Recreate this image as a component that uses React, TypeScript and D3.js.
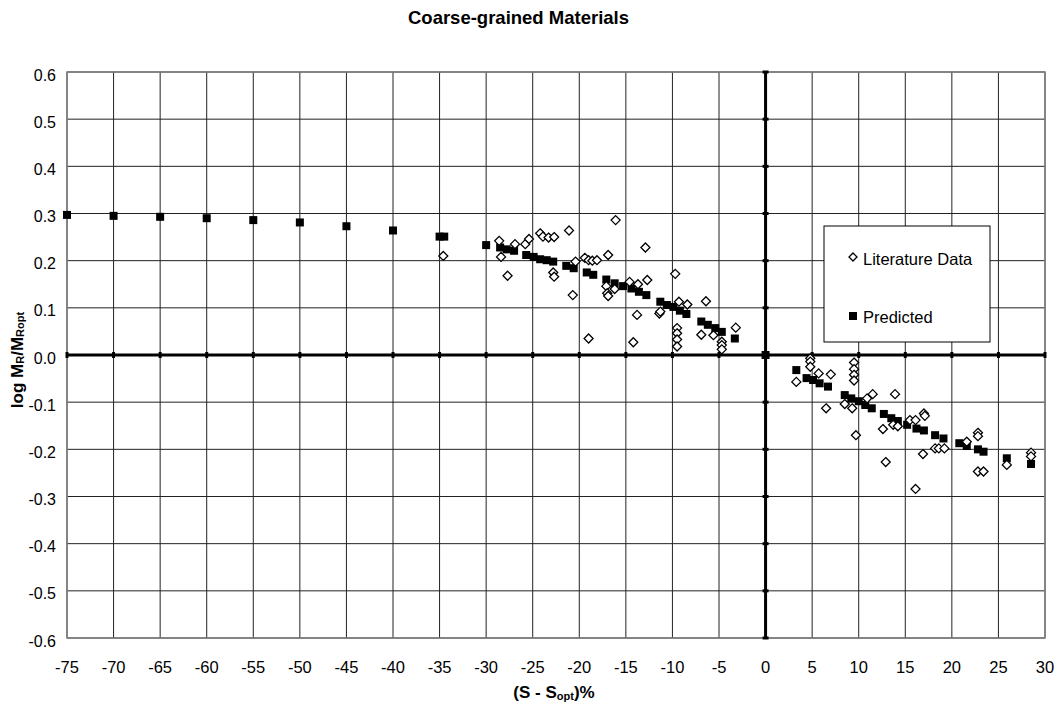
import React from 'react'
import { scaleLinear, range } from 'd3'

// predicted curve (filled squares)
const predX = [-75, -70, -65, -60, -55, -50, -45, -40, -35, -34.5, -30, -28.5, -27.8, -27.0, -25.7, -24.9, -24.2, -23.5, -22.8, -21.4, -20.6, -19.2, -18.5, -17.1, -16.2, -15.3, -14.4, -13.6, -12.8, -11.3, -10.6, -9.9, -9.2, -8.5, -6.9, -6.2, -5.4, -4.7, -3.3,
  0, 3.3, 4.4, 5.1, 5.8, 6.7, 8.5, 9.2, 10.0, 10.7, 11.4, 12.7, 13.5, 14.2, 15.2, 16.2, 17.0, 18.2, 19.1, 20.8, 21.6, 22.8, 23.4, 25.9, 28.5]
const predY = [0.297, 0.295, 0.293, 0.29, 0.286, 0.281, 0.273, 0.264, 0.251, 0.251, 0.233, 0.228, 0.224, 0.221, 0.212, 0.208, 0.203, 0.201, 0.198, 0.189, 0.184, 0.175, 0.17, 0.16, 0.152, 0.146, 0.141, 0.134, 0.127, 0.113, 0.106, 0.102, 0.094, 0.087, 0.071, 0.064, 0.057, 0.049, 0.035,
  0, -0.032, -0.049, -0.053, -0.06, -0.067, -0.085, -0.092, -0.098, -0.106, -0.113, -0.125, -0.134, -0.14, -0.148, -0.156, -0.16, -0.17, -0.177, -0.187, -0.193, -0.2, -0.205, -0.219, -0.231]

// literature data (open diamonds)
const litX = [-34.6, -28.6, -28.4, -27.7, -26.9, -25.8, -25.4, -24.2, -23.9, -23.3, -22.7, -22.8, -22.7, -21.1, -20.7, -20.4, -19.4, -19.0, -18.6, -18.1, -19.0, -16.9, -17.1, -17.0, -16.9, -16.2, -16.1, -14.6, -14.2, -13.8, -13.7, -12.9, -12.7, -11.4, -11.3, -9.7, -9.5, -9.5, -9.5, -9.5, -9.3, -8.4, -6.9, -6.4, -5.6, -4.7, -4.7, -4.7, -3.2,
  4.8, 4.8, 4.8, 3.3, 5.7, 7.0, 6.5, 9.5, 9.5, 9.5, 9.5, 8.5, 9.3, 9.7, 10.9, 11.5, 13.9, 12.6, 12.9, 13.7, 14.2, 15.5, 16.1, 17.0, 17.1, 16.9, 16.1, 18.2, 18.6, 19.2, 21.6, 22.8, 22.8, 22.8, 23.4, 25.9, 28.5, 28.5]
const litY = [0.21, 0.242, 0.208, 0.168, 0.235, 0.235, 0.246, 0.258, 0.251, 0.249, 0.25, 0.175, 0.166, 0.264, 0.127, 0.198, 0.206, 0.201, 0.2, 0.201, 0.035, 0.212, 0.146, 0.131, 0.125, 0.14, 0.286, 0.155, 0.027, 0.085, 0.15, 0.228, 0.159, 0.088, 0.092, 0.172, 0.057, 0.046, 0.033, 0.018, 0.113, 0.107, 0.043, 0.114, 0.042, 0.028, 0.021, 0.012, 0.058,
  -0.007, -0.014, -0.025, -0.057, -0.039, -0.041, -0.113, -0.016, -0.03, -0.042, -0.054, -0.104, -0.113, -0.17, -0.092, -0.083, -0.083, -0.157, -0.227, -0.148, -0.151, -0.138, -0.138, -0.124, -0.129, -0.21, -0.284, -0.198, -0.198, -0.198, -0.184, -0.165, -0.172, -0.247, -0.247, -0.233, -0.207, -0.215]

const xTicks = range(-75, 31, 5)
const yTicks = range(-6, 7).map(v => v / 10)

const font = 'Liberation Sans, Arial, sans-serif'

function App() {
  const W = 1057, H = 704
  const x = scaleLinear().domain([-75, 30]).range([67, 1045])
  const y = scaleLinear().domain([-0.6, 0.6]).range([638, 72])
  const x0 = x(0), y0 = y(0)

  const diamond = (cx: number, cy: number, r = 4.5) =>
    `M${cx},${cy - r}L${cx + r},${cy}L${cx},${cy + r}L${cx - r},${cy}Z`

  return (
    <svg width={W} height={H} style={{ position: 'absolute', left: 0, top: 0, background: '#fff' }} fontFamily={font}>
      <rect width={W} height={H} fill="#fff" />
      <text x={518.5} y={23.5} textAnchor="middle" fontSize={18.5} fontWeight="bold">Coarse-grained Materials</text>

      {/* grid */}
      {xTicks.map(t => (
        <line key={'gx' + t} x1={x(t)} x2={x(t)} y1={y(0.6)} y2={y(-0.6)} stroke="#222" strokeWidth={1} />
      ))}
      {yTicks.map(t => (
        <line key={'gy' + t} x1={x(-75)} x2={x(30)} y1={y(t)} y2={y(t)} stroke="#222" strokeWidth={1} />
      ))}
      <rect x={x(-75)} y={y(0.6)} width={x(30) - x(-75)} height={y(-0.6) - y(0.6)} fill="none" stroke="#808080" strokeWidth={1.5} />

      {/* zero axes */}
      <line x1={x(-75)} x2={x(30)} y1={y0} y2={y0} stroke="#000" strokeWidth={3} />
      <line x1={x0} x2={x0} y1={y(0.6)} y2={y(-0.6)} stroke="#000" strokeWidth={3} />
      {xTicks.map(t => (
        <line key={'tx' + t} x1={x(t)} x2={x(t)} y1={y0 - 3} y2={y0 + 3} stroke="#000" strokeWidth={3} />
      ))}
      {yTicks.map(t => (
        <line key={'ty' + t} x1={x0 - 3} x2={x0 + 3} y1={y(t)} y2={y(t)} stroke="#000" strokeWidth={3} />
      ))}

      {/* tick labels */}
      {xTicks.map(t => (
        <text key={'lx' + t} x={x(t)} y={673} textAnchor="middle" fontSize={16.5}>{t}</text>
      ))}
      {yTicks.map(t => (
        <text key={'ly' + t} x={56} y={y(t) + 8.5} textAnchor="end" fontSize={16}>{t.toFixed(1)}</text>
      ))}

      {/* axis titles */}
      <text x={554} y={698} textAnchor="middle" fontSize={17} fontWeight="bold">
        (S - S<tspan fontSize={11} dy={2}>opt</tspan><tspan dy={-2}>)%</tspan>
      </text>
      <text transform={`translate(23,360) rotate(-90)`} textAnchor="middle" fontSize={17} fontWeight="bold">
        log M<tspan fontSize={11} dy={1}>R</tspan><tspan dy={-1}>/M</tspan><tspan fontSize={11} dy={1}>Ropt</tspan>
      </text>

      {/* predicted */}
      {predX.map((v, i) => (
        <rect key={'p' + i} x={x(v) - 4} y={y(predY[i]) - 4} width={8} height={8} fill="#000" />
      ))}
      {/* literature */}
      {litX.map((v, i) => (
        <path key={'l' + i} d={diamond(x(v), y(litY[i]))} fill="#fff" stroke="#000" strokeWidth={1.3} />
      ))}

      {/* legend */}
      <rect x={824} y={226} width={166} height={116} fill="#fff" stroke="#000" strokeWidth={1} />
      <path d={diamond(853, 257, 4)} fill="#fff" stroke="#000" strokeWidth={1.3} />
      <text x={863} y={265} fontSize={16.5}>Literature Data</text>
      <rect x={849} y={312} width={8} height={8} fill="#000" />
      <text x={863} y={323} fontSize={16.5}>Predicted</text>
    </svg>
  )
}

export default App
